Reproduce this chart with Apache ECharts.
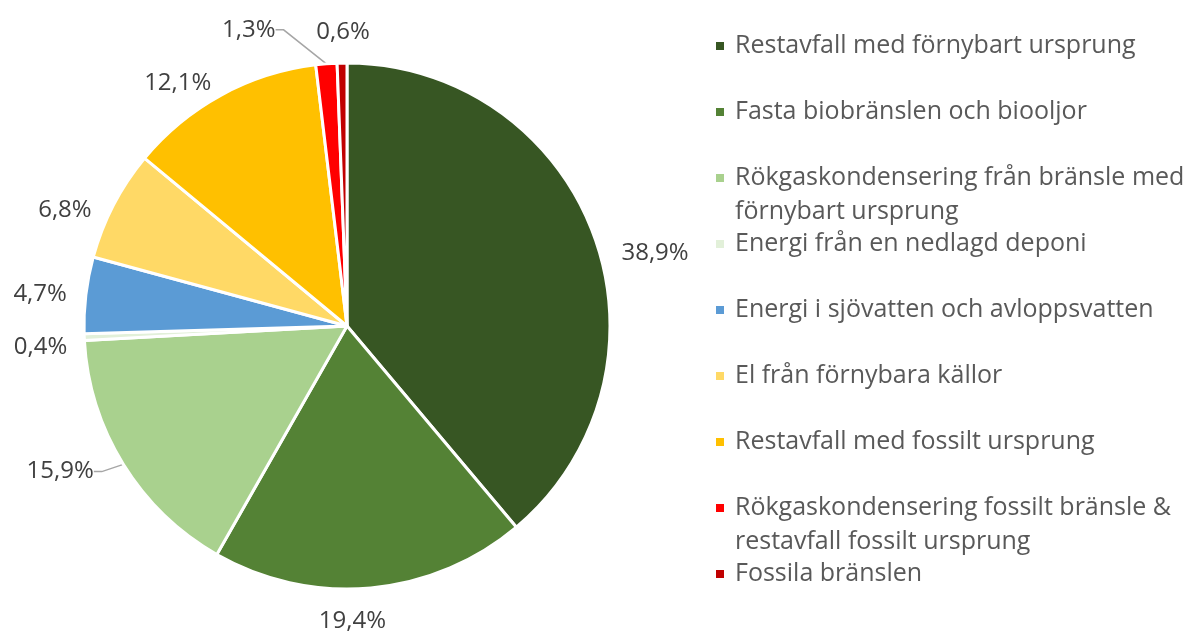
<!DOCTYPE html>
<html><head><meta charset="utf-8">
<script src="https://cdn.jsdelivr.net/npm/echarts@6/dist/echarts.min.js"></script>
<style>html,body{margin:0;padding:0;background:#fff}#c{width:1202px;height:633px}</style>
</head><body><div id="c"></div>
<script>
const categories = [
  "Restavfall med förnybart ursprung",
  "Fasta biobränslen och biooljor",
  "Rökgaskondensering från bränsle med\nförnybart ursprung",
  "Energi från en nedlagd deponi",
  "Energi i sjövatten och avloppsvatten",
  "El från förnybara källor",
  "Restavfall med fossilt ursprung",
  "Rökgaskondensering fossilt bränsle &\nrestavfall fossilt ursprung",
  "Fossila bränslen"
];
const values = [38.9, 19.4, 15.9, 0.4, 4.7, 6.8, 12.1, 1.3, 0.6];
const colors = ["#375623", "#548235", "#A9D18E", "#E2F0D9", "#5B9BD5", "#FFD966", "#FFC000", "#FF0000", "#C00000"];
const leaderShown = [false, false, true, false, false, false, false, true, false];
// small manual label nudges (layout only), in px, relative to ECharts' outside placement
const labelNudge = [[5, 21], [-66, 23], [-8, 2], [6, 10], [4, 0], [0, 10], [8, -3], [-37, -24], [41, -21]];

const FONT = "'Open Sans', 'Noto Sans', sans-serif";
const LH = 34;
const legendTop0 = 46, legendPitch = 66;

const legends = categories.map((name, i) => {
  const nLines = name.split("\n").length;
  const blockLines = nLines === 1 ? 1 : nLines * 2 - 1;
  const y = legendTop0 + i * legendPitch;
  return {
    orient: 'vertical',
    left: 714,
    top: y - blockLines * LH / 2,
    padding: 0,
    itemWidth: 10,
    itemHeight: 10,
    icon: 'rect',
    selectedMode: false,
    data: [name],
    formatter: function (n) {
      const parts = n.split("\n");
      if (parts.length === 1) return n;
      return "\n" + parts.join("\n");
    },
    textStyle: { fontFamily: FONT, fontSize: 25, color: '#595959', lineHeight: LH, padding: [0, 0, 0, 5] }
  };
});

const chart = echarts.init(document.getElementById('c'), null, { renderer: 'canvas' });
chart.setOption({
  animation: false,
  color: colors,
  legend: legends,
  series: [{
    type: 'pie',
    center: [347, 326],
    radius: 263,
    startAngle: 90,
    clockwise: true,
    avoidLabelOverlap: false,
    labelLayout: function (p) {
      const r = p.labelRect, n = labelNudge[p.dataIndex];
      return {
        x: r.x + r.width / 2 + n[0],
        y: r.y + r.height / 2 + n[1],
        align: 'center',
        verticalAlign: 'middle',
        hideOverlap: false
      };
    },
    itemStyle: { borderColor: '#fff', borderWidth: 3 },
    label: {
      show: true,
      position: 'outside',
      fontFamily: FONT,
      fontSize: 24,
      color: '#404040',
      formatter: p => p.value.toFixed(1).replace('.', ',') + '%'
    },
    labelLine: { show: false, length: 10, length2: 8, lineStyle: { color: '#A6A6A6', width: 1.5 } },
    data: categories.map((name, i) => ({
      name: name,
      value: values[i],
      labelLine: { show: leaderShown[i] }
    }))
  }]
});
</script></body></html>
